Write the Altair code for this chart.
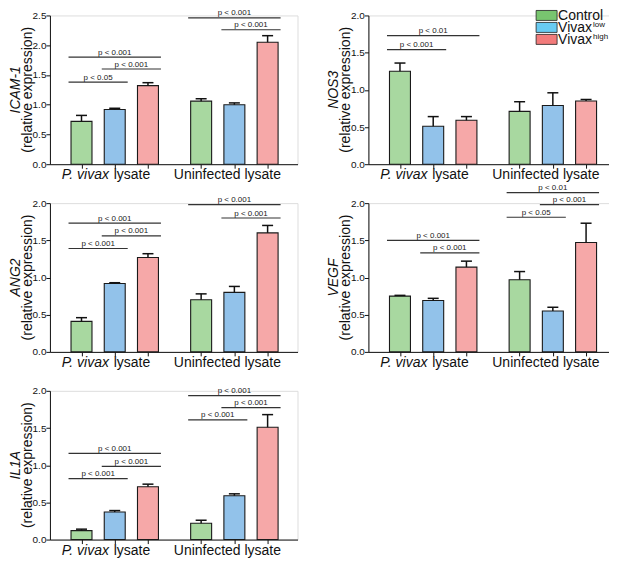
import altair as alt
import pandas as pd

FONT = "Liberation Sans"

# ---------------- data ----------------
SERIES = ["Control", "Vivax low", "Vivax high"]
GROUPS = ["P. vivax lysate", "Uninfected lysate"]

ICAM1_MEAN = [0.72, 0.92, 1.32, 1.06, 1.00, 2.05]
ICAM1_ERR = [0.10, 0.02, 0.05, 0.04, 0.03, 0.11]
ICAM1_SIG = [(0, 1, 1.38, "p < 0.05"), (1, 2, 1.60, "p < 0.001"), (0, 2, 1.80, "p < 0.001"),
             (4, 5, 2.26, "p < 0.001"), (3, 5, 2.46, "p < 0.001")]

NOS3_MEAN = [1.25, 0.51, 0.59, 0.71, 0.79, 0.85]
NOS3_ERR = [0.11, 0.13, 0.05, 0.13, 0.17, 0.02]
NOS3_SIG = [(0, 1, 1.54, "p < 0.001"), (0, 2, 1.73, "p < 0.01")]

ANG2_MEAN = [0.41, 0.92, 1.27, 0.70, 0.80, 1.60]
ANG2_ERR = [0.05, 0.01, 0.05, 0.08, 0.08, 0.10]
ANG2_SIG = [(0, 1, 1.39, "p < 0.001"), (1, 2, 1.56, "p < 0.001"), (0, 2, 1.73, "p < 0.001"),
            (4, 5, 1.80, "p < 0.001"), (3, 5, 1.98, "p < 0.001")]

VEGF_MEAN = [0.75, 0.69, 1.14, 0.97, 0.55, 1.47]
VEGF_ERR = [0.01, 0.03, 0.08, 0.11, 0.05, 0.26]
VEGF_SIG = [(1, 2, 1.33, "p < 0.001"), (0, 2, 1.50, "p < 0.001"), (3, 4, 1.81, "p < 0.05"),
            (4, 5, 1.98, "p < 0.001"), (3, 5, 2.14, "p < 0.01")]

IL1A_MEAN = [0.12, 0.37, 0.71, 0.22, 0.59, 1.51]
IL1A_ERR = [0.02, 0.02, 0.035, 0.04, 0.025, 0.17]
IL1A_SIG = [(0, 1, 0.82, "p < 0.001"), (1, 2, 0.985, "p < 0.001"), (0, 2, 1.16, "p < 0.001"),
            (3, 4, 1.61, "p < 0.001"), (4, 5, 1.775, "p < 0.001"), (3, 5, 1.935, "p < 0.001")]

LIGHT = ["#A8D8A0", "#92C2EA", "#F6A8A8"]
DARKER = ["#A8D8A0", "#92C2EA", "#F38C8C"]
LEG_COLORS = ["#78C56F", "#68CBF2", "#F27B7B"]

# ---------------- layout ----------------
W, H = 248, 149
POS = [1 + i + (0.6 if i >= 3 else 0) for i in range(6)]
XDOM = [0.05, 7.5]
UNIT = W / (XDOM[1] - XDOM[0])
CAP = 5.5 / UNIT
OVER = 13 / UNIT

xscale = alt.Scale(domain=XDOM, nice=False, zero=False, padding=0)
xaxis = alt.Axis(values=POS, labels=False, title=None, grid=False,
                 tickSize=4, tickColor="#111", domainColor="#111",
                 tickWidth=1, domainWidth=1)


def panel(gene, means, errs, sigs, ymax, colors, legend=False):
    rows = []
    for i in range(6):
        rows.append({
            "series": SERIES[i % 3],
            "group": GROUPS[i // 3],
            "mean": means[i],
            "err": errs[i],
            "pos": POS[i],
            "top": means[i] + errs[i],
            "capL": POS[i] - CAP,
            "capR": POS[i] + CAP,
        })
    df = pd.DataFrame(rows)
    ticks = [round(v * 0.5, 1) for v in range(int(round(ymax / 0.5)) + 1)]
    yscale = alt.Scale(domain=[0, ymax], nice=False, padding=0)
    yaxis = alt.Axis(values=ticks, tickCount=len(ticks), format=".1f", title=None, grid=False,
                     tickSize=4, tickColor="#111", domainColor="#111",
                     labelFontSize=10, labelColor="#111", labelFont=FONT,
                     labelPadding=0, tickWidth=1, domainWidth=1, labelOverlap=False)

    def X(f):
        return alt.X(f, scale=xscale, axis=xaxis)

    def Y(f):
        return alt.Y(f, scale=yscale, axis=yaxis)

    base = alt.Chart(df)
    bars = base.mark_bar(size=21, stroke="#1a1a1a", strokeWidth=1.1).encode(
        x=X("pos:Q"), y=Y("mean:Q"),
        color=alt.Color("series:N", scale=alt.Scale(domain=SERIES, range=colors), legend=None),
    )
    err_line = base.mark_rule(color="#111", strokeWidth=1.5).encode(
        x=X("pos:Q"), y=Y("mean:Q"), y2="top:Q")
    err_cap = base.mark_rule(color="#111", strokeWidth=1.5).encode(
        x=X("capL:Q"), x2="capR:Q", y=Y("top:Q"))

    sdf = pd.DataFrame([{
        "x1": POS[a] - OVER, "x2": POS[b] + OVER, "xm": (POS[a] + POS[b]) / 2,
        "y": yv, "label": lab} for a, b, yv, lab in sigs])
    sbase = alt.Chart(sdf)
    sig_line = sbase.mark_rule(color="#333", strokeWidth=1.2).encode(
        x=X("x1:Q"), x2="x2:Q", y=Y("y:Q"))
    sig_text = sbase.mark_text(fontSize=8, font=FONT, dy=-2.5, baseline="alphabetic",
                               color="#222").encode(x=X("xm:Q"), y=Y("y:Q"), text="label:N")

    tdf = pd.DataFrame({"gene": [gene], "sub": ["(relative expression)"]})
    tbase = alt.Chart(tdf)
    t_gene = tbase.mark_text(angle=270, fontSize=14, font=FONT, fontStyle="italic",
                             align="center", baseline="middle", color="#111").encode(
        x=alt.value(-34), y=alt.value(H / 2), text="gene:N")
    t_sub = tbase.mark_text(angle=270, fontSize=14, font=FONT,
                            align="center", baseline="middle", color="#111").encode(
        x=alt.value(-22), y=alt.value(H / 2), text="sub:N")

    ldf = pd.DataFrame({"ital": ["P. vivax"], "rest": ["lysate"], "other": [GROUPS[1]],
                        "p1": [POS[1]], "p4": [POS[4]]})
    lbase = alt.Chart(ldf)
    l_ital = lbase.mark_text(fontSize=14, font=FONT, fontStyle="italic", align="left",
                             baseline="alphabetic", dx=-53, color="#111").encode(
        x=X("p1:Q"), y=alt.value(H + 15), text="ital:N")
    l_rest = lbase.mark_text(fontSize=14, font=FONT, align="left",
                             baseline="alphabetic", dx=-1, color="#111").encode(
        x=X("p1:Q"), y=alt.value(H + 15), text="rest:N")
    l_other = lbase.mark_text(fontSize=14, font=FONT, align="center",
                              baseline="alphabetic", dx=-7, color="#111").encode(
        x=X("p4:Q"), y=alt.value(H + 15), text="other:N")

    layers = [bars, err_line, err_cap, sig_line, sig_text, t_gene, t_sub, l_ital, l_rest, l_other]

    if legend:
        lg = pd.DataFrame({"name": ["Control", "Vivax", "Vivax"], "sup": ["", "low", "high"],
                           "idx": [0, 1, 2], "hex": LEG_COLORS})
        gb = alt.Chart(lg).transform_calculate(
            cy="datum.idx * 12", ytop="datum.idx * 12 - 5", ybot="datum.idx * 12 + 5",
            tb="datum.idx * 12 + 5")
        sw = gb.mark_rect(stroke="#222", strokeWidth=0.8).encode(
            x=alt.value(168), x2=alt.value(189),
            y=alt.Y("ytop:Q", scale=None, axis=None), y2="ybot:Q",
            color=alt.Color("hex:N", scale=None))
        nm = gb.mark_text(fontSize=14, font=FONT, align="left", baseline="alphabetic",
                          color="#111").encode(
            x=alt.value(190), y=alt.Y("tb:Q", scale=None, axis=None), text="name:N")
        sp = gb.mark_text(fontSize=8, font=FONT, align="left", baseline="alphabetic",
                          color="#111").encode(
            x=alt.value(225), y=alt.Y("cy:Q", scale=None, axis=None), text="sup:N")
        layers += [sw, nm, sp]

    return alt.layer(*layers).properties(width=W, height=H)


p1 = panel("ICAM-1", ICAM1_MEAN, ICAM1_ERR, ICAM1_SIG, 2.5, LIGHT)
p2 = panel("NOS3", NOS3_MEAN, NOS3_ERR, NOS3_SIG, 2.0, LIGHT, legend=True)
p3 = panel("ANG2", ANG2_MEAN, ANG2_ERR, ANG2_SIG, 2.0, LIGHT)
p4 = panel("VEGF", VEGF_MEAN, VEGF_ERR, VEGF_SIG, 2.0, DARKER)
p5 = panel("IL1A", IL1A_MEAN, IL1A_ERR, IL1A_SIG, 2.0, DARKER)

chart = alt.concat(p1, p2, p3, p4, p5, columns=2, bounds="flush",
                   spacing=alt.RowColnumber(row=39, column=71)).properties(
    padding={"left": 0, "top": 0, "right": -8, "bottom": -1}
).configure_view(stroke=None).configure(font=FONT)

chart.save("out.html", embed_options={"renderer": "svg", "actions": False})
